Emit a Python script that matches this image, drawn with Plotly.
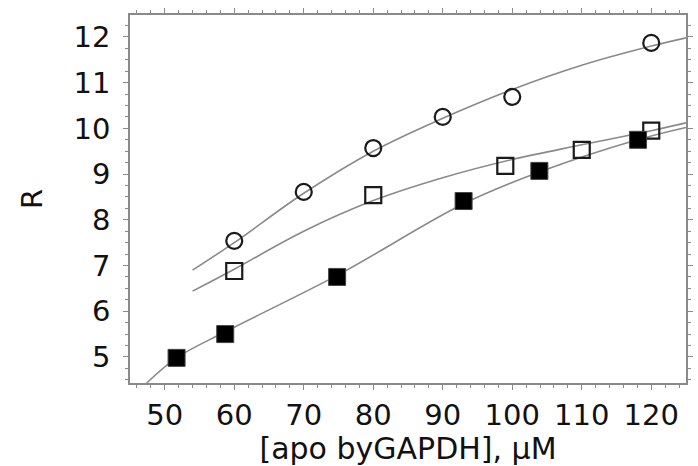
import plotly.graph_objects as go

circ_x = [60, 70, 80, 90, 100, 120]
circ_y = [7.54, 8.61, 9.57, 10.25, 10.69, 11.87]

osq_x = [60, 80, 99, 110, 120]
osq_y = [6.88, 8.54, 9.18, 9.53, 9.95]

fsq_x = [51.7, 58.7, 74.8, 93, 103.9, 118.1]
fsq_y = [4.98, 5.5, 6.75, 8.41, 9.07, 9.75]

# Fitted curves
circ_fit_x = [54, 60, 70, 80, 90, 100, 110, 120, 125]
circ_fit_y = [6.9, 7.5, 8.58, 9.5, 10.22, 10.85, 11.38, 11.8, 11.98]

osq_fit_x = [54, 60, 70, 80, 90, 100, 110, 120, 125]
osq_fit_y = [6.44, 6.92, 7.75, 8.42, 8.92, 9.32, 9.64, 9.95, 10.12]

fsq_fit_x = [47.4, 51.7, 58.7, 75, 93, 104, 118, 125]
fsq_fit_y = [4.43, 4.98, 5.55, 6.8, 8.35, 9.05, 9.75, 10.02]

x_ticks = [50, 60, 70, 80, 90, 100, 110, 120]
y_ticks = [5, 6, 7, 8, 9, 10, 11, 12]

FONT = "DejaVu Sans"
LINE_C = "#8a8a8a"
MARK_C = "#1a1a1a"

fig = go.Figure()
for fx, fy in [(circ_fit_x, circ_fit_y), (osq_fit_x, osq_fit_y), (fsq_fit_x, fsq_fit_y)]:
    fig.add_trace(go.Scatter(x=fx, y=fy, mode="lines",
                             line=dict(color=LINE_C, width=1.6, shape="spline"),
                             showlegend=False, hoverinfo="skip"))

fig.add_trace(go.Scatter(x=circ_x, y=circ_y, mode="markers",
                         marker=dict(symbol="circle-open", size=16, color=MARK_C,
                                     line=dict(width=2.2, color=MARK_C)),
                         showlegend=False))
fig.add_trace(go.Scatter(x=osq_x, y=osq_y, mode="markers",
                         marker=dict(symbol="square-open", size=16, color=MARK_C,
                                     line=dict(width=2.2, color=MARK_C)),
                         showlegend=False))
fig.add_trace(go.Scatter(x=fsq_x, y=fsq_y, mode="markers",
                         marker=dict(symbol="square", size=17, color="#000000",
                                     line=dict(width=1, color="#444")),
                         showlegend=False))

axis_common = dict(showgrid=False, zeroline=False, showline=True, linecolor=LINE_C,
                   linewidth=1.5, mirror="ticks", ticks="outside", ticklen=5,
                   tickcolor=LINE_C, tickwidth=1.2,
                   tickfont=dict(family=FONT, size=29, color="#111"))

fig.update_xaxes(range=[45, 125], tickvals=x_ticks, ticktext=[str(v) for v in x_ticks],
                 minor=dict(dtick=2, ticks="outside", ticklen=3, tickcolor=LINE_C),
                 title=dict(text="[apo byGAPDH], \u03bcM",
                            font=dict(family=FONT, size=30, color="#111"), standoff=8),
                 **axis_common)
fig.update_yaxes(range=[4.43, 12.48], tickvals=y_ticks, ticktext=[str(v) for v in y_ticks],
                 minor=dict(dtick=0.25, ticks="outside", ticklen=3, tickcolor=LINE_C),
                 ticklabelstandoff=7,
                 title=dict(text="R", font=dict(family=FONT, size=29, color="#111"),
                            standoff=22),
                 **axis_common)

fig.update_layout(width=698, height=466, margin=dict(l=130, r=5, t=15, b=83),
                  plot_bgcolor="white", paper_bgcolor="white")

fig.write_html("out.html")
